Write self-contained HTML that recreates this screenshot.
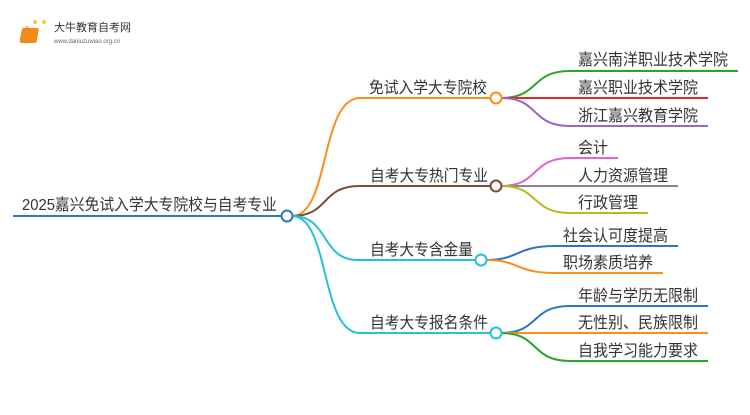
<!DOCTYPE html>
<html><head><meta charset="utf-8"><style>
body{margin:0;background:#fff;width:750px;height:410px;overflow:hidden}
svg text{font-family:"Liberation Sans","Noto Sans CJK SC",sans-serif;fill:#333}
</style></head><body>
<svg width="750" height="410" viewBox="0 0 750 410" xmlns="http://www.w3.org/2000/svg">
<g fill="none" stroke-width="2">
<path d="M13 216H282" stroke="#2a78c2"/>
<path d="M292 216C330 216 320 98 360 98H491" stroke="#ff8c1a"/>
<path d="M292 216C330 216 320 186 360 186H491" stroke="#7b4b3a"/>
<path d="M292 216C330 216 320 260 358 260H476" stroke="#26c1d6"/>
<path d="M292 216C330 216 320 333 360 333H490" stroke="#26c1d6"/>
<path d="M501 98C540 98 530 71 570 71H738" stroke="#2aa52a"/>
<path d="M501 98H708" stroke="#e8232a"/>
<path d="M501 98C540 98 530 126 570 126H708" stroke="#9a66c8"/>
<path d="M501 186C540 186 530 158 570 158H618" stroke="#e066c8"/>
<path d="M501 186H678" stroke="#888"/>
<path d="M501 186C540 186 530 213 570 213H648" stroke="#b8b82a"/>
<path d="M486 260C520 260 515 246 555 246H678" stroke="#2a78c2"/>
<path d="M486 260C520 260 515 273 555 273H663" stroke="#ff8c1a"/>
<path d="M501 333C540 333 530 306 570 306H708" stroke="#2a78c2"/>
<path d="M501 333H708" stroke="#ff8c1a"/>
<path d="M501 333C540 333 530 361 570 361H708" stroke="#2aa52a"/>
</g>
<g fill="#fff" stroke-width="2">
<circle cx="287" cy="216" r="5.5" stroke="#2a78c2"/>
<circle cx="496" cy="98" r="5.5" stroke="#ff8c1a"/>
<circle cx="496" cy="186" r="5.5" stroke="#7b4b3a"/>
<circle cx="481" cy="260" r="5.5" stroke="#26c1d6"/>
<circle cx="496" cy="333" r="5.5" stroke="#26c1d6"/>
</g>
<g font-size="16" lengthAdjust="spacingAndGlyphs">
<text x="22" y="210" textLength="255" lengthAdjust="spacingAndGlyphs">2025嘉兴免试入学大专院校与自考专业</text>
<text x="369" y="93" textLength="118" lengthAdjust="spacingAndGlyphs">免试入学大专院校</text>
<text x="370" y="181" textLength="118" lengthAdjust="spacingAndGlyphs">自考大专热门专业</text>
<text x="370" y="255" textLength="103" lengthAdjust="spacingAndGlyphs">自考大专含金量</text>
<text x="370" y="328" textLength="118" lengthAdjust="spacingAndGlyphs">自考大专报名条件</text>
<text x="578" y="65" textLength="150" lengthAdjust="spacingAndGlyphs">嘉兴南洋职业技术学院</text>
<text x="578" y="93" textLength="120" lengthAdjust="spacingAndGlyphs">嘉兴职业技术学院</text>
<text x="578" y="121" textLength="120" lengthAdjust="spacingAndGlyphs">浙江嘉兴教育学院</text>
<text x="578" y="153" textLength="30" lengthAdjust="spacingAndGlyphs">会计</text>
<text x="578" y="181" textLength="90" lengthAdjust="spacingAndGlyphs">人力资源管理</text>
<text x="578" y="208" textLength="60" lengthAdjust="spacingAndGlyphs">行政管理</text>
<text x="563" y="241" textLength="105" lengthAdjust="spacingAndGlyphs">社会认可度提高</text>
<text x="563" y="268" textLength="90" lengthAdjust="spacingAndGlyphs">职场素质培养</text>
<text x="578" y="301" textLength="120" lengthAdjust="spacingAndGlyphs">年龄与学历无限制</text>
<text x="578" y="328" textLength="120" lengthAdjust="spacingAndGlyphs">无性别、民族限制</text>
<text x="578" y="356" textLength="120" lengthAdjust="spacingAndGlyphs">自我学习能力要求</text>
</g>
<g>
<circle cx="22" cy="38" r="2" fill="#f5c542"/><circle cx="27" cy="28" r="2" fill="#f5c542"/><circle cx="35" cy="22" r="2" fill="#f5c542"/><circle cx="44" cy="22" r="2" fill="#f5c542"/>
<rect x="27" y="28" width="17" height="15" rx="2" fill="#f08a1a" transform="skewX(-10)"/>
<text x="54" y="31" font-size="11" style="fill:#333">大牛教育自考网</text>
<text x="54" y="43" font-size="6" style="fill:#666">www.daniuzuwiao.org.cn</text>
</g>
</svg>
</body></html>
